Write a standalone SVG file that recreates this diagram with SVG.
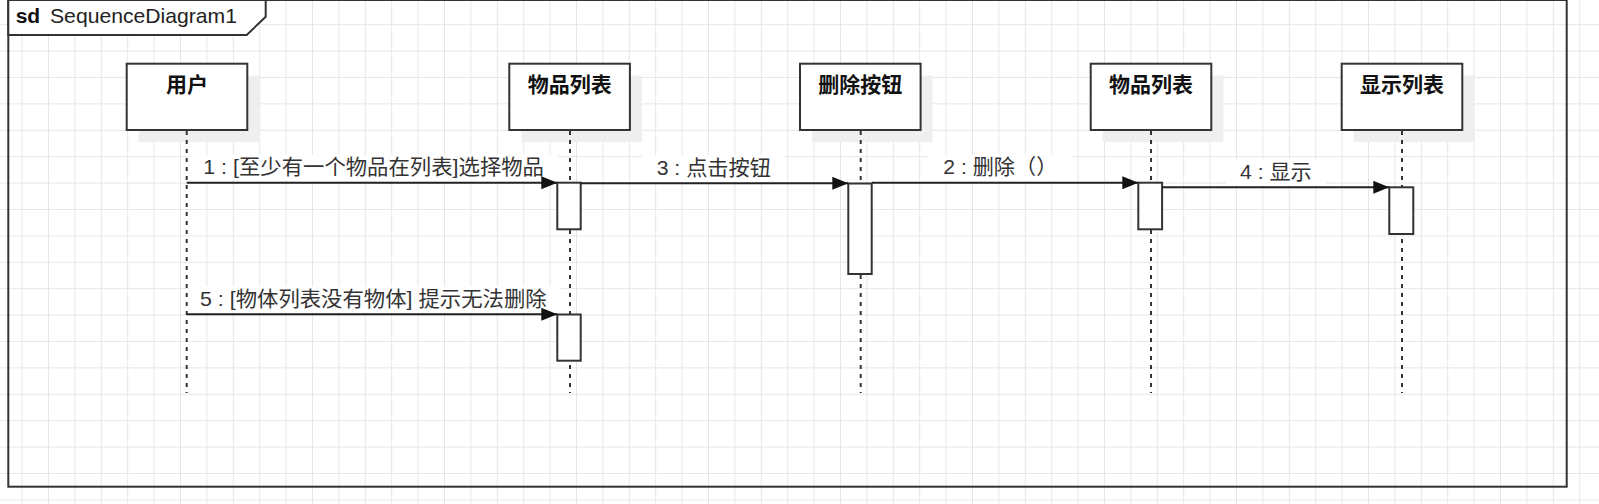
<svg xmlns="http://www.w3.org/2000/svg" width="1599" height="504" viewBox="0 0 1599 504">
<style>
.box{fill:#fff;stroke:#333;stroke-width:2}
.shadow{fill:#efefef}
.title{font-family:"Liberation Sans","Noto Sans CJK SC",sans-serif;font-size:21px;font-weight:bold;fill:#111;text-anchor:middle}
.life{stroke:#333;stroke-width:2;stroke-dasharray:4 5;fill:none}
.act{fill:#fff;stroke:#333;stroke-width:2}
.msg{stroke:#222;stroke-width:2;fill:none;marker-end:url(#arrow)}
.lbl{font-family:"Liberation Sans","Noto Sans CJK SC",sans-serif;font-size:21px;fill:#333}
.lblbg{fill:#fff}
.frame{fill:none;stroke:#333;stroke-width:2}
</style>
<defs>
<pattern id="grid" patternUnits="userSpaceOnUse" x="21.6" y="24.2" width="26.4" height="26.4">
<path d="M0 0.5 H26.4 M0.5 0 V26.4" stroke="#e6e6e6" stroke-width="1" fill="none"/>
</pattern>
<marker id="arrow" markerUnits="userSpaceOnUse" markerWidth="17" markerHeight="14" refX="16" refY="6.5" orient="auto">
<path d="M0 0 L16 6.5 L0 13 Z" fill="#111"/>
</marker>
</defs>
<rect x="0" y="0" width="1599" height="504" fill="#fff"/>
<rect x="0" y="0" width="1599" height="504" fill="url(#grid)"/>

<g id="frame">
<rect class="frame" x="8.3" y="0" width="1558.4" height="486.7"/>
<path d="M8.3 0 H265.7 V16.7 L246.7 35 H8.3 Z" fill="#fff" stroke="#333" stroke-width="2"/>
<text x="15.7" y="23" font-family="Liberation Sans,sans-serif" font-size="21" font-weight="bold" fill="#111">sd</text>
<text x="50" y="23" font-family="Liberation Sans,sans-serif" font-size="21" fill="#222" textLength="187" lengthAdjust="spacingAndGlyphs">SequenceDiagram1</text>
</g>

<g id="lifelines">
<line class="life" x1="186.7" y1="131" x2="186.7" y2="393"/>
<line class="life" x1="570" y1="131" x2="570" y2="393"/>
<line class="life" x1="860.7" y1="131" x2="860.7" y2="393"/>
<line class="life" x1="1151" y1="131" x2="1151" y2="393"/>
<line class="life" x1="1402" y1="131" x2="1402" y2="393"/>
</g>

<g id="node-user">
<rect class="shadow" x="138.7" y="75.7" width="120.6" height="66.3"/>
<line class="life" x1="186.7" y1="131" x2="186.7" y2="142"/>
<rect class="box" x="126.7" y="63.7" width="120.6" height="66.3"/>
<text class="title" x="187" y="92">用户</text>
</g>
<g id="node-itemlist1">
<rect class="shadow" x="521.3" y="75.7" width="120.6" height="66.3"/>
<line class="life" x1="570" y1="131" x2="570" y2="142"/>
<rect class="box" x="509.3" y="63.7" width="120.6" height="66.3"/>
<text class="title" x="569.7" y="92">物品列表</text>
</g>
<g id="node-deletebtn">
<rect class="shadow" x="812" y="75.7" width="120.6" height="66.3"/>
<line class="life" x1="860.7" y1="131" x2="860.7" y2="142"/>
<rect class="box" x="800" y="63.7" width="120.6" height="66.3"/>
<text class="title" x="860.3" y="92">删除按钮</text>
</g>
<g id="node-itemlist2">
<rect class="shadow" x="1102.7" y="75.7" width="120.6" height="66.3"/>
<line class="life" x1="1151" y1="131" x2="1151" y2="142"/>
<rect class="box" x="1090.7" y="63.7" width="120.6" height="66.3"/>
<text class="title" x="1151" y="92">物品列表</text>
</g>
<g id="node-showlist">
<rect class="shadow" x="1353.7" y="75.7" width="120.6" height="66.3"/>
<line class="life" x1="1402" y1="131" x2="1402" y2="142"/>
<rect class="box" x="1341.7" y="63.7" width="120.6" height="66.3"/>
<text class="title" x="1402" y="92">显示列表</text>
</g>

<g id="activations">
<rect class="act" x="557.3" y="182.7" width="23.4" height="46.6"/>
<rect class="act" x="848.3" y="183.5" width="23.4" height="90.5"/>
<rect class="act" x="1138.3" y="182.7" width="23.8" height="46.6"/>
<rect class="act" x="1389.3" y="187.3" width="24" height="46.7"/>
<rect class="act" x="557.3" y="314.5" width="23.4" height="46.2"/>
</g>

<g id="connectors">
<rect class="lblbg" x="189" y="154.7" width="369" height="26"/>
<line class="msg" x1="186.7" y1="182.7" x2="557.3" y2="182.7"/>
<text class="lbl" x="203.3" y="173.7" textLength="340.7" lengthAdjust="spacingAndGlyphs">1 : [至少有一个物品在列表]选择物品</text>

<rect class="lblbg" x="642" y="155.3" width="143" height="26"/>
<line class="msg" x1="580.7" y1="183.3" x2="848.3" y2="183.3"/>
<text class="lbl" x="656.7" y="175" textLength="114.3" lengthAdjust="spacingAndGlyphs">3 : 点击按钮</text>

<rect class="lblbg" x="929" y="154.7" width="142" height="26"/>
<line class="msg" x1="871.7" y1="182.7" x2="1138.3" y2="182.7"/>
<text class="lbl" x="943.3" y="174" textLength="114" lengthAdjust="spacingAndGlyphs">2 : 删除（）</text>

<rect class="lblbg" x="1226" y="159.3" width="100" height="26"/>
<line class="msg" x1="1162.3" y1="187.3" x2="1389.3" y2="187.3"/>
<text class="lbl" x="1240" y="178.5" textLength="71.7" lengthAdjust="spacingAndGlyphs">4 : 显示</text>

<rect class="lblbg" x="189" y="286.3" width="372" height="26"/>
<line class="msg" x1="186.7" y1="314.3" x2="557.3" y2="314.3"/>
<text class="lbl" x="200" y="305.5" textLength="346.7" lengthAdjust="spacingAndGlyphs">5 : [物体列表没有物体] 提示无法删除</text>
</g>
</svg>
